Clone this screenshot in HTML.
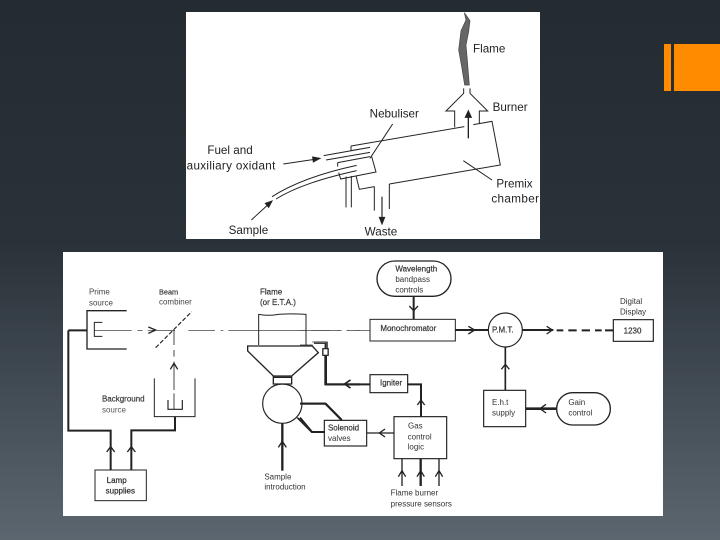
<!DOCTYPE html>
<html><head><meta charset="utf-8">
<style>
html,body{margin:0;padding:0;width:720px;height:540px;overflow:hidden;background:linear-gradient(180deg,#242b31 0%,#2a3239 45%,#5b666f 100%)}
svg{position:absolute;left:0;top:0}
text{font-family:"Liberation Sans",sans-serif;fill:#222}
text[font-weight=bold]{font-weight:normal;stroke:#333;stroke-width:.6px}
.d{filter:blur(0.4px)}
.t{filter:blur(0.25px)}
</style></head><body>
<svg width="720" height="540" viewBox="0 0 720 540" xmlns="http://www.w3.org/2000/svg">
<rect x="664" y="44" width="7" height="47" fill="#ff8c00"/>
<rect x="674" y="44" width="46" height="47" fill="#ff8c00"/>
<rect x="186" y="12" width="354" height="227" fill="#fff"/>
<rect x="63" y="252" width="600" height="264" fill="#fff"/>

<g class="d" transform="translate(186,10) scale(.33333)" fill="none" stroke="#222" stroke-width="3">
<path d="M835,8 L852,32 L848,65 L840,105 L844,150 L850,225 L836,225 L827,170 L818,120 L825,62 L840,30 Z" fill="#666" stroke="#444" stroke-width="2"/>
<path d="M833,235 V250 L780,303 H806 V352"/>
<path d="M852,235 V250 L905,303 H880 V342"/>
<path d="M495,408 L835,350 M862,344 L918,334 L943,465 L610,522"/>
<path d="M847,385 V315" stroke-width="4"/><path d="M838,322 L847,302 L856,322 Z" fill="#222"/>
<path d="M495,408 V422 L552,412 M413,437 L552,412 M420,450 L552,427 M455,458 L552,440 M455,458 V470"/>
<path d="M557,440 L570,486 L464,507 L458,488 M258,560 C320,520 400,490 512,466 M270,567 C330,530 410,505 512,482"/>
<path d="M480,500 V592 M496,498 V592 M510,497 L520,538 L565,530 M565,530 V602 M610,522 V597"/>
<path d="M588,560 V625" stroke-width="3.5"/><path d="M580,622 L588,642 L596,622 Z" fill="#222"/>
<path d="M292,462 L385,448" stroke-width="3"/><path d="M380,441 L402,445 L382,456 Z" fill="#222"/>
<path d="M196,630 L245,585" stroke-width="3"/><path d="M238,580 L258,573 L248,592 Z" fill="#222"/>
<path d="M620,342 L552,445 M832,452 L918,510"/>
</g>
<g class="t" transform="translate(186,10) scale(.33333)" font-size="35">
<text x="861" y="128">Flame</text>
<text x="920" y="303">Burner</text>
<text x="551" y="323">Nebuliser</text>
<text x="64" y="432">Fuel and</text>
<text x="2" y="478" textLength="266">auxiliary oxidant</text>
<text x="931" y="532">Premix</text>
<text x="916" y="577" textLength="143">chamber</text>
<text x="128" y="672">Sample</text>
<text x="536" y="677">Waste</text>
</g>

<g class="d" transform="translate(60,250) scale(.33333)" fill="none" stroke="#222" stroke-width="3">
<path d="M200,182 H81 V297 H200" stroke-width="4"/>
<path d="M127,217 H103 V259 H127" stroke-width="3"/>
<path d="M25,241 H81 M25,241 V542 H152 V660 M345,500 V541 H214 V660" stroke-width="6"/>
<path d="M103,241 H215 M232,241 H248 M263,241 H345 M385,241 H465 M482,241 H490 M505,241 H810 M830,241 H845 M860,241 H900" stroke-width="2"/>
<path d="M265,231 L287,240 L265,250" stroke-width="4"/>
<path d="M287,293 L395,185" stroke-width="3.5" stroke-dasharray="13 6"/>
<path d="M342,241 V285 M342,300 V320 M342,335 V420 M342,430 V478" stroke-width="2.5"/>
<path d="M331,358 L342,340 L353,358" stroke-width="4"/>
<path d="M283,385 V500 H405 V385"/>
<path d="M324,450 V478 H367 V450" stroke-width="3.5"/>
<path d="M140,606 L152,590 L164,606 M202,606 L214,590 L226,606" stroke-width="4"/>
<rect x="105" y="660" width="154" height="92"/>
<path d="M596,285 V193 Q625,198 650,194 T738,193 V285"/>
<path d="M563,288 H757 L775,308 L695,378 H640 L563,303 Z" stroke-width="4"/>
<path d="M640,378 V404 M695,378 V404 M640,382 H695 M640,402 H695" stroke-width="4"/>
<circle cx="667" cy="461" r="59" stroke-width="3.5"/>
<path d="M667,520 V662" stroke-width="7"/>
<path d="M655,592 L667,574 L679,592" stroke-width="4"/>
<path d="M728,461 H797 L845,510" stroke-width="6"/>
<path d="M712,503 L755,546 H795" stroke-width="5"/>
<path d="M757,276 H802 V296 M762,280 H797 V296" stroke-width="2.5"/>
<rect x="789" y="296" width="16" height="20" stroke-width="3"/>
<path d="M798,316 V403 H900" stroke-width="6"/>
<path d="M872,390 L855,402 L872,414" stroke-width="4"/>
</g>
<g class="t" transform="translate(60,250) scale(.33333)" font-size="24">
<text x="87" y="133" style="fill:#444">Prime</text>
<text x="87" y="166" style="fill:#444">source</text>
<text x="297" y="133" font-weight="bold" style="fill:#444" font-size="22">Beam</text>
<text x="297" y="164" style="fill:#444">combiner</text>
<text x="600" y="134" font-weight="bold" style="fill:#333">Flame</text>
<text x="600" y="165" font-weight="bold" style="fill:#333">(or E.T.A.)</text>
<text x="126" y="455" style="fill:#444" font-weight="bold" font-size="24">Background</text>
<text x="126" y="487" style="fill:#555">source</text>
<text x="140" y="699" font-weight="bold">Lamp</text>
<text x="137" y="731" font-weight="bold">supplies</text>
<text x="613" y="689" style="fill:#333">Sample</text>
<text x="613" y="719" style="fill:#333">introduction</text>
</g>

<g class="d" transform="translate(300,250) scale(.33333)" fill="none" stroke="#222" stroke-width="3">
<rect x="231" y="33" width="222" height="106" rx="53" ry="53" stroke-width="4"/>
<path d="M341,139 V208" stroke-width="6"/>
<path d="M328,168 L341,182 L354,168" stroke-width="4"/>
<rect x="210" y="208" width="256" height="65"/>
<path d="M0,241 H20 M35,241 H120 M140,241 H150 M165,241 H210" stroke-width="2"/>
<path d="M466,240 H565" stroke-width="6"/>
<path d="M505,229 L524,240 L505,252" stroke-width="4"/>
<circle cx="616" cy="240" r="51" stroke-width="3.5"/>
<path d="M666,240 H760" stroke-width="6"/>
<path d="M740,229 L757,240 L740,252" stroke-width="4"/>
<path d="M770,241 H790 M805,241 H830 M845,241 H870 M885,241 H905 M915,241 H940" stroke-width="6"/>
<rect x="940" y="209" width="120" height="65" stroke-width="3.5"/>
<path d="M616,291 V421" stroke-width="5"/>
<path d="M604,358 L616,343 L628,358" stroke-width="4"/>
<rect x="551" y="421" width="126" height="109" stroke-width="3.5"/>
<path d="M677,476 H770" stroke-width="8"/>
<path d="M738,463 L720,476 L738,489" stroke-width="4"/>
<rect x="770" y="428" width="161" height="97" rx="48" ry="48" stroke-width="4"/>
<path d="M0,285 H38 M42,276 H80 V296 M42,280 H75 V296" stroke-width="2.5"/>
<rect x="68" y="296" width="16" height="20" stroke-width="3"/>
<path d="M76,316 V403 H210" stroke-width="6"/>
<path d="M150,390 L133,402 L150,414" stroke-width="4"/>
<rect x="210" y="374" width="113" height="54" stroke-width="3.5"/>
<path d="M323,403 H363 V500" stroke-width="6"/>
<path d="M352,465 L363,450 L374,465" stroke-width="4"/>
<rect x="282" y="500" width="158" height="126" stroke-width="3.5"/>
<rect x="73" y="511" width="127" height="77" stroke-width="3.5"/>
<path d="M200,549 H282" stroke-width="4"/>
<path d="M255,537 L238,549 L255,561" stroke-width="4"/>
<path d="M0,461 H76 L125,510 M0,503 L36,546 H73" stroke-width="6"/>
<path d="M306,626 V708 M417,626 V708" stroke-width="4"/>
<path d="M362,626 V708" stroke-width="7"/>
<path d="M295,680 L306,662 L317,680 M351,680 L362,662 L373,680 M406,680 L417,662 L428,680" stroke-width="4"/>
</g>
<g class="t" transform="translate(300,250) scale(.33333)" font-size="24">
<text x="286" y="65" font-weight="bold" style="fill:#333">Wavelength</text>
<text x="286" y="96" style="fill:#333">bandpass</text>
<text x="286" y="127" style="fill:#333">controls</text>
<text x="241" y="243" font-weight="bold" style="fill:#333">Monochromator</text>
<text x="576" y="247" font-weight="bold" style="fill:#333">P.M.T.</text>
<text x="960" y="162" style="fill:#333">Digital</text>
<text x="960" y="194" style="fill:#333">Display</text>
<text x="971" y="250" font-weight="bold" style="fill:#333">1230</text>
<text x="240" y="406" font-weight="bold" style="fill:#333">Igniter</text>
<text x="576" y="465" style="fill:#333">E.h.t</text>
<text x="576" y="497" style="fill:#333">supply</text>
<text x="805" y="465" style="fill:#333">Gain</text>
<text x="805" y="497" style="fill:#333">control</text>
<text x="324" y="536" style="fill:#333">Gas</text>
<text x="323" y="568" style="fill:#333">control</text>
<text x="323" y="599" style="fill:#333">logic</text>
<text x="84" y="541" font-weight="bold" style="fill:#333">Solenoid</text>
<text x="84" y="573" style="fill:#333">valves</text>
<text x="272" y="737" style="fill:#333">Flame burner</text>
<text x="272" y="769" style="fill:#333">pressure sensors</text>
</g>
</svg>
</body></html>
